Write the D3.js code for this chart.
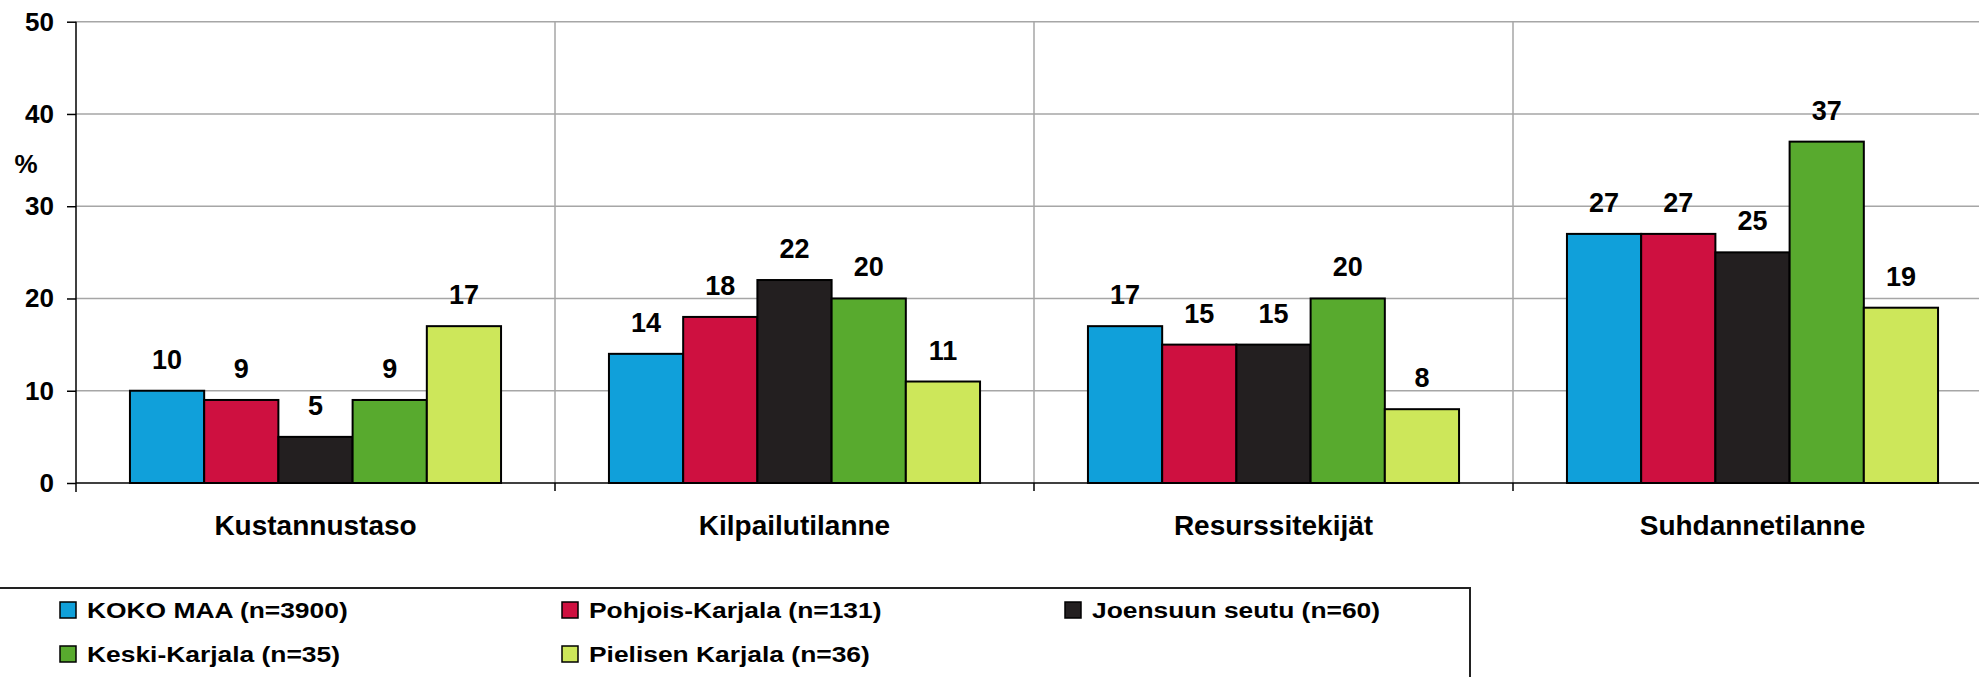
<!DOCTYPE html>
<meta charset="utf-8">
<script src="https://d3js.org/d3.v7.min.js"></script>
<style>
    body { margin: 0; background: #fff; }
    text { font-family: "Liberation Sans", Arial, sans-serif; font-weight: bold; fill: #000; }
</style>
<body>
<div id="chart"></div>
<script>
    // data
    var categories = ["Kustannustaso", "Kilpailutilanne", "Resurssitekijät", "Suhdannetilanne"]
    var seriesNames = ["KOKO MAA (n=3900)", "Pohjois-Karjala (n=131)", "Joensuun seutu (n=60)", "Keski-Karjala (n=35)", "Pielisen Karjala (n=36)"]
    var kokoMaa = [10, 14, 17, 27]
    var pohjoisKarjala = [9, 18, 15, 27]
    var joensuunSeutu = [5, 22, 15, 25]
    var keskiKarjala = [9, 20, 20, 37]
    var pielisenKarjala = [17, 11, 8, 19]
    var yTicks = [0, 10, 20, 30, 40, 50]

    var seriesValues = [kokoMaa, pohjoisKarjala, joensuunSeutu, keskiKarjala, pielisenKarjala]
    var colors = ["#10a0da", "#ce1040", "#231f20", "#58aa2e", "#cde75a"]

    var width = 1979, height = 677
    var plotLeft = 76, plotTop = 21.7, plotBottom = 483, step = 479

    var svg = d3.select("#chart").append("svg")
        .attr("width", width)
        .attr("height", height)

    var x = d3.scaleBand()
        .domain(categories)
        .range([plotLeft, plotLeft + step * categories.length])

    var xInner = d3.scaleBand()
        .domain(seriesNames)
        .range([0, x.bandwidth()])
        .paddingOuter(0.727)

    var y = d3.scaleLinear()
        .domain([0, 50])
        .range([plotBottom, plotTop])

    // horizontal grid lines
    svg.append("g").selectAll("line")
        .data(yTicks.slice(1))
        .enter().append("line")
        .attr("x1", plotLeft).attr("x2", width)
        .attr("y1", d => y(d)).attr("y2", d => y(d))
        .attr("stroke", "#a6a6a6").attr("stroke-width", 1.5)

    // vertical grid lines between categories
    svg.append("g").selectAll("line")
        .data(categories.slice(1))
        .enter().append("line")
        .attr("x1", d => x(d)).attr("x2", d => x(d))
        .attr("y1", plotTop).attr("y2", plotBottom)
        .attr("stroke", "#a6a6a6").attr("stroke-width", 1.5)

    // x axis ticks below the baseline
    svg.append("g").selectAll("line")
        .data(categories.slice(1))
        .enter().append("line")
        .attr("x1", d => x(d)).attr("x2", d => x(d))
        .attr("y1", plotBottom).attr("y2", plotBottom + 8)
        .attr("stroke", "#000").attr("stroke-width", 1.5)

    // bars
    var groups = svg.append("g").selectAll("g")
        .data(seriesNames)
        .enter().append("g")

    groups.each(function (name, si) {
        var g = d3.select(this)
        var vals = seriesValues[si]
        g.selectAll("rect")
            .data(vals)
            .enter().append("rect")
            .attr("x", (d, i) => x(categories[i]) + xInner(name))
            .attr("y", d => y(d))
            .attr("width", xInner.bandwidth())
            .attr("height", d => y(0) - y(d))
            .attr("fill", colors[si])
            .attr("stroke", "#000")
            .attr("stroke-width", 2)
        g.selectAll("text")
            .data(vals)
            .enter().append("text")
            .attr("x", (d, i) => x(categories[i]) + xInner(name) + xInner.bandwidth() / 2)
            .attr("y", d => y(d) - 22)
            .attr("text-anchor", "middle")
            .style("font-size", "27px")
            .text(d => d)
    })

    // baseline
    svg.append("line")
        .attr("x1", plotLeft).attr("x2", width)
        .attr("y1", plotBottom).attr("y2", plotBottom)
        .attr("stroke", "#000").attr("stroke-width", 1.5)

    // y axis
    var yAxis = svg.append("g")
        .attr("transform", "translate(" + plotLeft + ",0)")
        .call(d3.axisLeft(y).tickValues(yTicks).tickSize(9).tickPadding(13))
    yAxis.select(".domain").remove()
    yAxis.selectAll(".tick line").attr("stroke", "#000").attr("stroke-width", 1.5)
    yAxis.selectAll(".tick text")
        .style("font-size", "26px")
        .style("font-family", "'Liberation Sans', Arial, sans-serif")
        .style("font-weight", "bold")
        .attr("fill", "#000")
    svg.append("line")
        .attr("x1", plotLeft).attr("x2", plotLeft)
        .attr("y1", plotTop).attr("y2", plotBottom + 9)
        .attr("stroke", "#000").attr("stroke-width", 1.5)

    svg.append("text")
        .attr("x", 26).attr("y", 173)
        .attr("text-anchor", "middle")
        .style("font-size", "26px")
        .text("%")

    // category labels
    svg.append("g").selectAll("text")
        .data(categories)
        .enter().append("text")
        .attr("x", d => x(d) + x.bandwidth() / 2)
        .attr("y", 535)
        .attr("text-anchor", "middle")
        .style("font-size", "28px")
        .text(d => d)

    // legend
    var legend = svg.append("g")
    legend.append("rect")
        .attr("x", -5).attr("y", 588)
        .attr("width", 1475).attr("height", 120)
        .attr("fill", "#fff")
        .attr("stroke", "#222").attr("stroke-width", 2)

    var legendCols = [60, 562, 1065], legendRows = [618, 662]
    var items = legend.selectAll("g.item")
        .data(seriesNames)
        .enter().append("g")
        .attr("class", "item")
        .attr("transform", (d, i) => "translate(" + legendCols[i % 3] + "," + legendRows[Math.floor(i / 3)] + ")")
    items.append("rect")
        .attr("x", 0).attr("y", -16)
        .attr("width", 16).attr("height", 16)
        .attr("fill", (d, i) => colors[i])
        .attr("stroke", "#000").attr("stroke-width", 1.5)
    items.append("text")
        .attr("transform", "translate(27,0) scale(1.2,1)")
        .style("font-size", "22px")
        .text(d => d)
</script>
</body>
